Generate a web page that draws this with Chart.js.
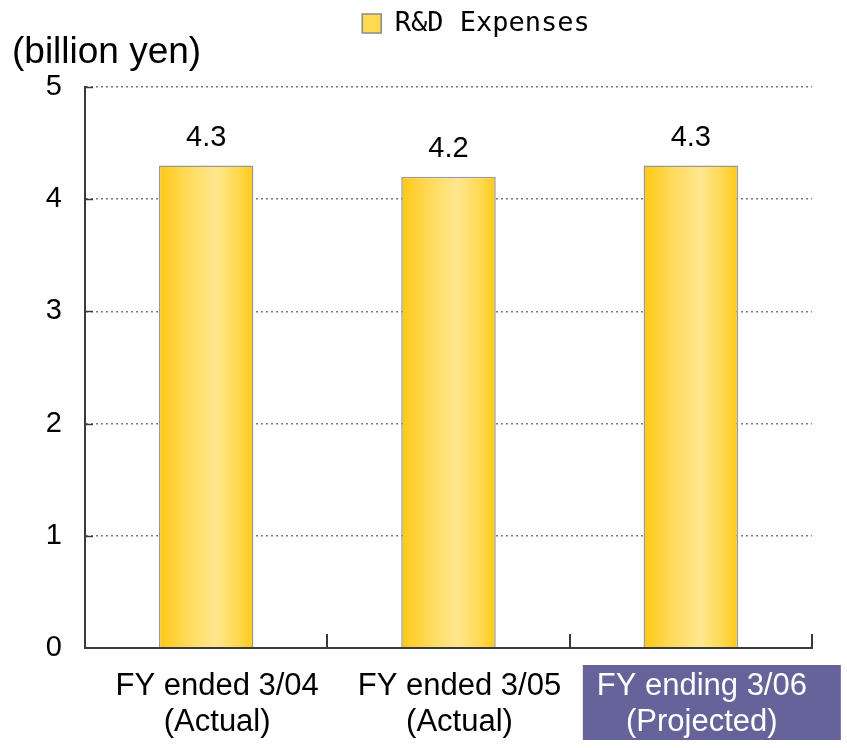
<!DOCTYPE html>
<html lang="en">
<head>
<meta charset="utf-8">
<title>R&amp;D Expenses</title>
<script src="https://cdn.jsdelivr.net/npm/chart.js@4.4.0/dist/chart.umd.min.js"></script>
<style>
  html, body { margin: 0; padding: 0; background: #fff; }
  #wrap { width: 847px; height: 748px; position: relative; }
</style>
</head>
<body>
<div id="wrap"><canvas id="c"></canvas></div>
<script>
// data
var categories = [["FY ended 3/04", "(Actual)"], ["FY ended 3/05", "(Actual)"], ["FY ending 3/06", "(Projected)"]];
var expenses = [4.3, 4.2, 4.3];
var yTicks = [0, 1, 2, 3, 4, 5];
var seriesName = "R&D Expenses";
var unitLabel = "(billion yen)";
var projectedIndex = 2;

var BAR_PCT = 0.39;
var AXIS_COLOR = '#3a3a3a';

Chart.defaults.font.family = "'Liberation Sans', Arial, sans-serif";
Chart.defaults.color = '#000';

// horizontal yellow shading for each bar
function barFill(c) {
  var chart = c.chart, xs = chart.scales.x;
  if (c.type !== 'data' || !xs || !chart.chartArea) return '#FFD94F';
  var cx = xs.getPixelForValue(c.dataIndex);
  var w = xs.width / categories.length * BAR_PCT;
  var g = chart.ctx.createLinearGradient(cx - w / 2, 0, cx + w / 2, 0);
  g.addColorStop(0, '#FFC814');
  g.addColorStop(0.3, '#FFDA5A');
  g.addColorStop(0.6, '#FFE78E');
  g.addColorStop(0.85, '#FFD84C');
  g.addColorStop(1, '#FFC814');
  return g;
}

// make the legend band taller and nudge it right
var legendBand = {
  id: 'legendBand',
  beforeLayout: function (chart) {
    var lg = chart.legend;
    if (lg && !lg._band) {
      var fit = lg.fit;
      lg.fit = function () { fit.call(this); this.height = 87; };
      lg._band = true;
    }
  },
  afterLayout: function (chart) {
    var lg = chart.legend;
    if (lg) { lg.left += 70; lg.right += 70; }
  }
};

var decor = {
  id: 'decor',
  beforeDraw: function (chart) {
    var ctx = chart.ctx, xs = chart.scales.x;
    ctx.save();
    ctx.fillStyle = '#fff';
    ctx.fillRect(0, 0, chart.width, chart.height);
    // shaded box behind the projected year label
    var px = xs.getPixelForValue(projectedIndex);
    ctx.fillStyle = '#66639B';
    ctx.fillRect(px - 108, xs.top + 17, 258, 75);
    ctx.restore();
  },
  afterDraw: function (chart) {
    var ctx = chart.ctx, xs = chart.scales.x, ys = chart.scales.y, a = chart.chartArea;
    ctx.save();
    // value labels above bars
    ctx.font = "29px 'Liberation Sans', Arial, sans-serif";
    ctx.fillStyle = '#000';
    ctx.textAlign = 'center';
    ctx.textBaseline = 'middle';
    var meta = chart.getDatasetMeta(0);
    meta.data.forEach(function (bar, i) {
      ctx.fillText(expenses[i].toFixed(1), bar.x, bar.y - 28);
    });
    // short inward ticks on the value axis
    ctx.strokeStyle = AXIS_COLOR;
    ctx.lineWidth = 1.5;
    yTicks.forEach(function (v) {
      if (v === 0) return;
      var y = Math.round(ys.getPixelForValue(v)) + 0.5;
      ctx.beginPath();
      ctx.moveTo(a.left, y);
      ctx.lineTo(a.left + 8, y);
      ctx.stroke();
    });
    // category boundary ticks rising from the base line
    ctx.lineWidth = 2;
    for (var i = 1; i <= categories.length; i++) {
      var bx = i < categories.length
        ? (xs.getPixelForValue(i - 1) + xs.getPixelForValue(i)) / 2
        : a.right;
      bx = Math.round(bx);
      ctx.beginPath();
      ctx.moveTo(bx, a.bottom);
      ctx.lineTo(bx, a.bottom - 14);
      ctx.stroke();
    }
    // unit caption
    ctx.font = "37px 'Liberation Sans', Arial, sans-serif";
    ctx.textAlign = 'left';
    ctx.fillText(unitLabel, 12, 53);
    ctx.restore();
  }
};

new Chart(document.getElementById('c').getContext('2d'), {
  type: 'bar',
  data: {
    labels: categories,
    datasets: [{
      label: seriesName,
      data: expenses,
      backgroundColor: barFill,
      borderColor: '#999',
      borderWidth: 1.5,
      borderSkipped: 'bottom',
      barPercentage: BAR_PCT,
      categoryPercentage: 1
    }]
  },
  options: {
    responsive: true,
    maintainAspectRatio: false,
    animation: false,
    layout: { padding: { left: 0, right: 35, top: 0, bottom: 0 } },
    plugins: {
      tooltip: { enabled: false },
      legend: {
        position: 'top',
        labels: {
          boxWidth: 19,
          boxHeight: 19,
          padding: 10,
          color: '#000',
          font: { family: "'DejaVu Sans Mono', monospace", size: 27 },
          generateLabels: function (chart) {
            var items = Chart.defaults.plugins.legend.labels.generateLabels(chart);
            items.forEach(function (it) {
              it.fillStyle = '#FFD94F';
              it.strokeStyle = '#8a8a8a';
              it.lineWidth = 1.5;
            });
            return items;
          }
        }
      }
    },
    scales: {
      x: {
        grid: { display: false, drawTicks: false },
        border: { display: true, color: AXIS_COLOR, width: 2, z: 1 },
        ticks: {
          padding: 21,
          labelOffset: 11,
          maxRotation: 0,
          autoSkip: false,
          font: { size: 31, lineHeight: 1.15 },
          color: function (c) { return c.index === projectedIndex ? '#fff' : '#000'; }
        },
        afterFit: function (s) { s.height = 100; }
      },
      y: {
        min: yTicks[0],
        max: yTicks[yTicks.length - 1],
        afterBuildTicks: function (s) { s.ticks = yTicks.map(function (v) { return { value: v }; }); },
        grid: {
          color: '#7a7a7a',
          lineWidth: 1.5,
          drawTicks: false
        },
        border: { display: true, color: AXIS_COLOR, width: 2, z: 1, dash: [2, 3] },
        ticks: { padding: 23, font: { size: 29 }, color: '#000' },
        afterFit: function (s) { s.width = 85; }
      }
    }
  },
  plugins: [legendBand, decor]
});
</script>
</body>
</html>
